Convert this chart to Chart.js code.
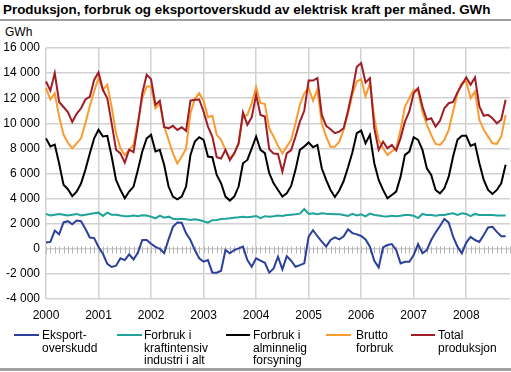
<!DOCTYPE html>
<html><head><meta charset="utf-8">
<script src="https://cdn.jsdelivr.net/npm/chart.js@4/dist/chart.umd.min.js"></script>
<style>
html,body{margin:0;padding:0;background:#fff;}
body{width:511px;height:372px;position:relative;overflow:hidden;font-family:"Liberation Sans",Arial,sans-serif;color:#000;}
#title{position:absolute;left:3px;top:2px;font-weight:bold;font-size:13.4px;line-height:16px;white-space:nowrap;}
#rule1{position:absolute;left:0;top:19px;width:511px;height:2px;background:#a0a0a0;}
#unit{position:absolute;left:5px;top:25px;font-size:12px;line-height:14px;}
#wrap{position:absolute;left:0;top:0;width:511px;height:330px;}
.leg{position:absolute;top:329px;font-size:12px;line-height:12.5px;white-space:nowrap;}
.sw{position:absolute;height:2px;top:334px;}
#rule2{position:absolute;left:0;top:368px;width:511px;height:3px;background:#a0a0a0;}
</style></head>
<body>
<div id="title">Produksjon, forbruk og eksportoverskudd av elektrisk kraft per måned. GWh</div>
<div id="rule1"></div>
<div id="unit">GWh</div>
<div id="wrap"><canvas id="c" width="511" height="330"></canvas></div>
<div id="legend"></div>
<div id="rule2"></div>
<script>
const years = ['2000','2001','2002','2003','2004','2005','2006','2007','2008'];
const monthsPerYear = ['01','02','03','04','05','06','07','08','09','10','11','12'];
const monthLabels = [];
years.forEach(y => monthsPerYear.forEach(m => monthLabels.push(y + '-' + m)));
const labels = monthLabels.slice(0, 107); // Jan 2000 - Nov 2008

const eksportoverskudd = [
  500, 550, 1450, 1150, 2100, 2200, 1950, 2250, 2200, 1600, 900, 850,
  150, -400, -1200, -1450, -1350, -750, -900, -450, -850, -300, 700, 700,
  400, 150, 0, -350, 750, 1750, 2100, 2080, 1230, 700, -100, -760,
  -1030, -900, -1900, -1900, -1750, -100, -360, -100, 35, 170, -900, -1430,
  -760, -950, -1110, -1900, -1560, -630, -1640, -580, -950, -1430, -1300, -1160,
  970, 1480, 1000, 570, 170, 700, 910, 750, 1000, 1550, 1250, 1150,
  1020, 750, 170, -950, -1480, 110, 300, 380, -100, -1160, -1030, -1030,
  -500, 380, -360, -100, 700, 1290, 1820, 2380, 2080, 970, 170, -360,
  500, 950, 700, 550, 1100, 1700, 1750, 1350, 1000, 1000
];
const kraftintensiv = [
  2780, 2650, 2720, 2780, 2720, 2650, 2720, 2780, 2650, 2720, 2780, 2830,
  2880, 2620, 2880, 2720, 2720, 2650, 2600, 2600, 2650, 2600, 2680, 2650,
  2560, 2430, 2650, 2480, 2560, 2400, 2350, 2400, 2350, 2300, 2350, 2300,
  2200, 2080, 2280, 2300, 2380, 2400, 2430, 2480, 2510, 2560, 2520, 2560,
  2620, 2450, 2600, 2560, 2600, 2650, 2620, 2700, 2720, 2750, 2800, 3170,
  2780, 2830, 2750, 2830, 2800, 2780, 2750, 2750, 2700, 2620, 2780, 2650,
  2750, 2580, 2800, 2700, 2650, 2600, 2570, 2630, 2600, 2630, 2700, 2700,
  2630, 2450, 2780, 2700, 2700, 2630, 2700, 2700, 2780, 2830, 2700, 2830,
  2780, 2600, 2780, 2700, 2700, 2700, 2700, 2650, 2650, 2650
];
const alminnelig = [
  8800, 8150, 8300, 6800, 5100, 4750, 4200, 4550, 5200, 6300, 7600, 8800,
  9480, 8950, 9000, 7350, 5490, 4700, 4030, 4560, 4960, 6290, 7750, 8800,
  9080, 7750, 7880, 6680, 4960, 4160, 3940, 4160, 4960, 7480, 8550, 8890,
  8680, 7350, 7300, 5890, 5220, 4160, 3840, 4160, 4960, 6820, 7080, 8010,
  8950, 7880, 7620, 6020, 5220, 4690, 4160, 4420, 5010, 6290, 7880, 8150,
  8470, 8100, 8280, 6420, 5490, 4690, 4130, 4650, 5400, 6500, 7700, 9210,
  9420, 8410, 9080, 6820, 5490, 4690, 4030, 4290, 4560, 5750, 7480, 7750,
  8890, 8680, 7880, 6420, 5890, 4690, 4420, 4820, 5750, 7350, 8680, 9000,
  9000, 8200, 8360, 6820, 5490, 4690, 4370, 4690, 5220, 6690
];
const bruttoForbruk = [
  12800, 11900, 12400, 10550, 9100, 8450, 8000, 8400, 8800, 10000, 11350, 12550,
  13600, 12670, 13070, 11300, 9200, 8000, 7470, 7870, 8270, 10130, 12000, 12930,
  12930, 11200, 11600, 9740, 8670, 7600, 6800, 7330, 8000, 10800, 11930, 12400,
  11800, 10490, 10600, 9080, 8670, 7880, 7200, 7600, 8400, 10540, 10670, 11600,
  12880, 11600, 11550, 9600, 8940, 8200, 7600, 8140, 8670, 10000, 11470, 12400,
  12800, 11800, 12670, 10000, 8940, 8140, 8140, 8540, 9480, 10800, 12270, 13330,
  13520, 12140, 13200, 10400, 8680, 8010, 7480, 7750, 8010, 9480, 11340, 12000,
  12670, 12540, 10940, 9880, 9080, 8360, 8280, 8680, 9480, 10940, 12400, 13200,
  13330, 12000, 12540, 10280, 9480, 8940, 8410, 8360, 8940, 10670
];
const totalProduksjon = [
  13330, 12600, 14000, 11700, 11300, 10900, 10100, 10750, 11200, 11900, 12100, 13450,
  14050, 12670, 12000, 10000, 7900, 7600, 6870, 7900, 7700, 9900, 12400, 13870,
  13520, 11470, 11800, 9700, 9600, 9800, 9470, 9680, 9400, 11800, 11870, 11900,
  10940, 9740, 8940, 7300, 7200, 7880, 7070, 7600, 8400, 10860, 9880, 10490,
  12270, 10670, 10540, 7930, 7600, 7560, 6150, 7600, 7870, 8940, 10130, 11000,
  13410, 13410, 13600, 10670, 9800, 9530, 9210, 9340, 9610, 11000, 12600, 14500,
  14800, 13250, 13600, 9600, 7880, 8540, 8010, 8280, 7830, 8820, 10130, 10940,
  12400, 12800, 11340, 10280, 10400, 9740, 10200, 11200, 11600, 11700, 12450, 13070,
  13650, 13070, 13650, 11340, 10600, 10670, 10400, 10000, 10280, 11870
];
const yTicks = { min: -4000, max: 16000, step: 2000 };

const series = [
  { label: ['Eksport-', 'overskudd'], data: eksportoverskudd, color: '#2b3f9b', order: 4 },
  { label: ['Forbruk i', 'kraftintensiv', 'industri i alt'], data: kraftintensiv, color: '#1fa39a', order: 3 },
  { label: ['Forbruk i', 'alminnelig', 'forsyning'], data: alminnelig, color: '#000000', order: 2 },
  { label: ['Brutto', 'forbruk'], data: bruttoForbruk, color: '#f99b2f', order: 1 },
  { label: ['Total', 'produksjon'], data: totalProduksjon, color: '#a01c26', order: 0 }
];

const FONT = '"Liberation Sans", Arial, sans-serif';
Chart.defaults.font.family = FONT;
Chart.defaults.font.size = 12;
Chart.defaults.color = '#000';

const GRID = '#d2d2d2';

const zeroTicks = {
  id: 'zeroTicks',
  beforeDatasetsDraw(chart) {
    const { ctx, scales: { x, y } } = chart;
    const y0 = Math.round(y.getPixelForValue(0)) + 0.5;
    ctx.save();
    ctx.strokeStyle = '#b4b4b4';
    ctx.lineWidth = 1;
    ctx.beginPath();
    for (let i = 0; i < chart.data.labels.length; i++) {
      const px = Math.round(x.getPixelForValue(i)) + 0.5;
      ctx.moveTo(px, y0 - 3);
      ctx.lineTo(px, y0 + 4);
    }
    ctx.stroke();
    ctx.restore();
  }
};

new Chart(document.getElementById('c'), {
  type: 'line',
  data: {
    labels: labels,
    datasets: series.map(s => ({
      label: s.label.join(' '),
      data: s.data,
      borderColor: s.color,
      backgroundColor: s.color,
      borderWidth: 2,
      pointRadius: 0,
      tension: 0,
      fill: false,
      order: s.order
    }))
  },
  options: {
    responsive: false,
    animation: false,
    devicePixelRatio: 1,
    layout: { padding: { top: 48, right: 1, left: 0, bottom: 0 } },
    plugins: { legend: { display: false }, tooltip: { enabled: false }, title: { display: false } },
    scales: {
      x: {
        type: 'category',
        grid: {
          drawTicks: false,
          lineWidth: 1.5,
          color: ctx => {
            const l = ctx.tick ? labels[ctx.tick.value] : null;
            return (l && l.endsWith('-01')) ? GRID : 'rgba(0,0,0,0)';
          }
        },
        border: { display: false },
        ticks: {
          autoSkip: false, maxRotation: 0, minRotation: 0, padding: 9,
          callback: function (v) {
            const l = this.getLabelForValue(v);
            return l.endsWith('-01') ? l.slice(0, 4) : null;
          }
        },
        afterFit(s) { s.height = 31; }
      },
      y: {
        min: yTicks.min, max: yTicks.max,
        grid: { drawTicks: false, color: GRID, lineWidth: 1.5 },
        border: { display: false },
        ticks: {
          stepSize: yTicks.step, padding: 6,
          callback: v => (v < 0 ? '-' : '') + Math.abs(v).toString().replace(/\B(?=(\d{3})+(?!\d))/g, ' ')
        },
        afterFit(s) { s.width = 46; }
      }
    }
  },
  plugins: [zeroTicks]
});

// legend (HTML)
const legendPos = [
  { line: [14, 39], text: 42 },
  { line: [117, 142], text: 144 },
  { line: [226, 250], text: 253 },
  { line: [326, 351], text: 356 },
  { line: [411, 435], text: 438 }
];
const lg = document.getElementById('legend');
series.forEach((s, i) => {
  const p = legendPos[i];
  const sw = document.createElement('div');
  sw.className = 'sw';
  sw.style.left = p.line[0] + 'px';
  sw.style.width = (p.line[1] - p.line[0]) + 'px';
  sw.style.background = s.color;
  lg.appendChild(sw);
  const t = document.createElement('div');
  t.className = 'leg';
  t.style.left = p.text + 'px';
  t.innerHTML = s.label.join('<br>');
  lg.appendChild(t);
});
</script>
</body></html>
